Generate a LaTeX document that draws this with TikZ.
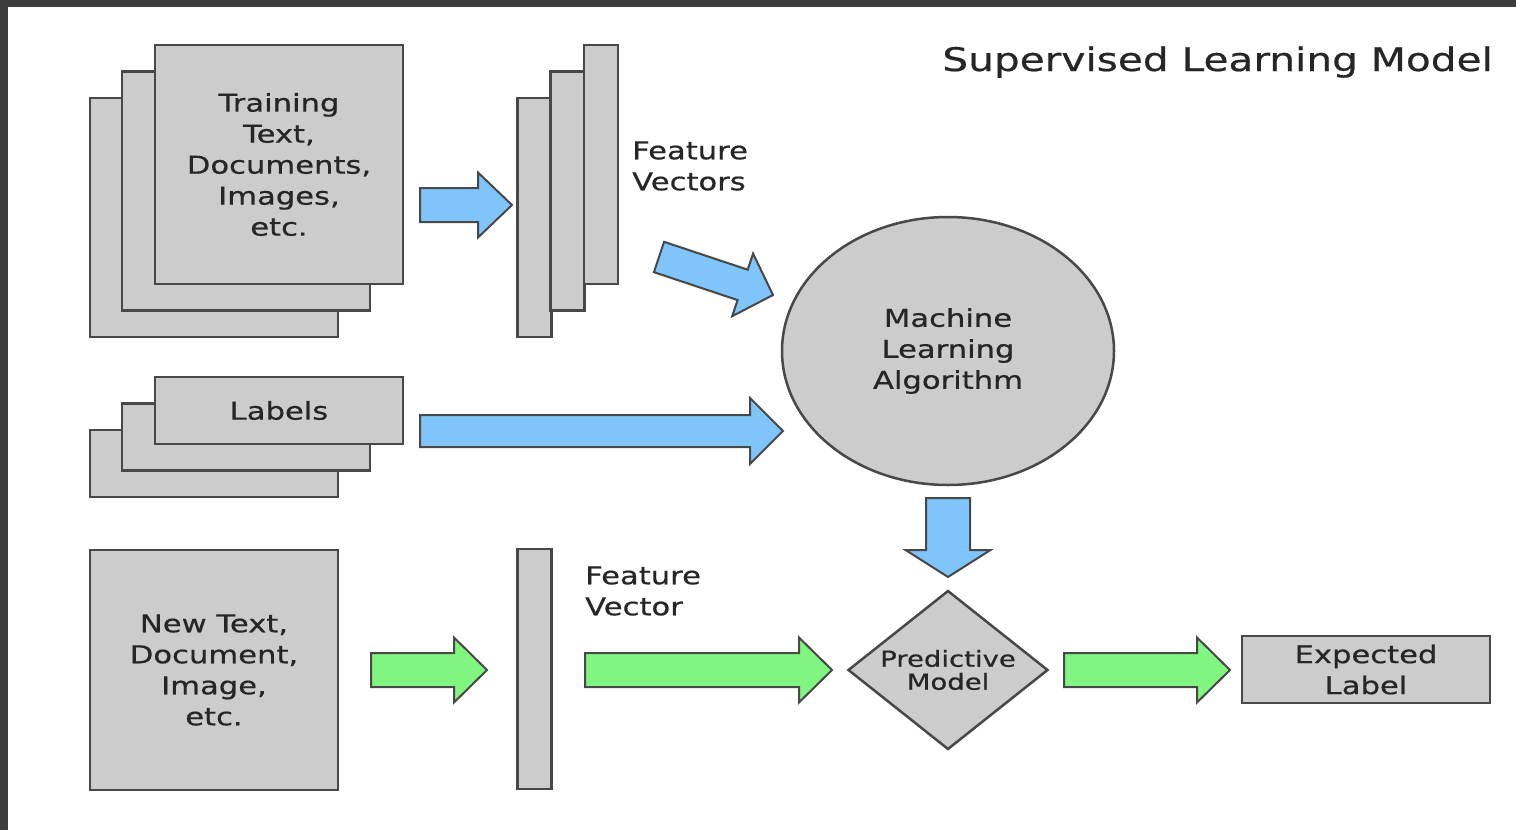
\documentclass[tikz,border=0pt]{standalone}
\usepackage{fontspec}
\setmainfont[FakeStretch=1.25,FakeBold=0.6]{DejaVu Sans}
\usetikzlibrary{calc,shapes.geometric}

\definecolor{boxgray}{HTML}{CCCCCC}
\definecolor{edgegray}{HTML}{484848}
\definecolor{textgray}{HTML}{262626}
\definecolor{arrowblue}{HTML}{7FC5FA}
\definecolor{arrowgreen}{HTML}{80F680}
\definecolor{framegray}{HTML}{3C3C3C}

\newcommand{\bodyfont}{\fontsize{24.5}{31}\selectfont}
% 粗箭头: 填充色, 起点, 终点, 箭身半宽, 箭头半宽, 箭头长
\newcommand{\blockarrow}[6]{%
  \draw[arrowline, fill=#1] ($(#2)!#4!90:(#3)$)
    -- ($(#3)!#6!(#2)!#4!90:(#3)$) -- ($(#3)!#6!(#2)!#5!90:(#3)$)
    -- (#3)
    -- ($(#3)!#6!(#2)!#5!-90:(#3)$) -- ($(#3)!#6!(#2)!#4!-90:(#3)$)
    -- ($(#2)!#4!-90:(#3)$) -- cycle;}

\tikzset{
  paper/.style={draw=edgegray, line width=2.5pt, fill=boxgray, text=textgray,
    align=center, inner sep=0pt, font=\bodyfont},
  txt/.style={text=textgray, inner sep=0pt},
  arrowline/.style={draw=edgegray, line width=2pt, line join=miter},
}

\begin{document}
\begin{tikzpicture}[x=1pt, y=-1pt]
    \useasboundingbox (0,0) rectangle (1516,830);
    \fill[white] (0,0) rectangle (1516,830);
    \fill[framegray] (0,0) rectangle (1516,7);
    \fill[framegray] (0,0) rectangle (8,830);

    \node[txt, anchor=base east, font=\fontsize{32.5}{39}\selectfont] (title) at (1493,71) {Supervised Learning Model};

    % 训练数据
    \node[paper, minimum width=248pt, minimum height=239pt] (train3) at (214,217.5) {};
    \node[paper, minimum width=248pt, minimum height=239pt] (train2) at (246,191) {};
    \node[paper, minimum width=248pt, minimum height=239pt] (train1) at (279,164.5) {Training\\Text,\\Documents,\\Images,\\etc.};

    \node[paper, minimum width=34pt, minimum height=239pt] (fv3) at (534.5,217.5) {};
    \node[paper, minimum width=34pt, minimum height=239pt] (fv2) at (567.5,191) {};
    \node[paper, minimum width=34pt, minimum height=239pt] (fv1) at (601,164.5) {};
    \node[txt, anchor=west, align=left, font=\bodyfont] (fvtext) at (632,166) {Feature\\Vectors};

    \node[paper, minimum width=248pt, minimum height=67pt] (labels3) at (214,463.5) {};
    \node[paper, minimum width=248pt, minimum height=67pt] (labels2) at (246,437) {};
    \node[paper, minimum width=248pt, minimum height=67pt] (labels1) at (279,410.5) {Labels};

    \node[paper, ellipse, minimum width=332pt, minimum height=268pt] (mla) at (948,351) {Machine\\Learning\\Algorithm};

    % 预测部分
    \node[paper, minimum width=248pt, minimum height=240pt] (newdoc) at (214,670) {New Text,\\Document,\\Image,\\etc.};
    \node[paper, minimum width=34pt, minimum height=240pt] (newfv) at (534.5,669) {};
    \node[txt, anchor=west, align=left, font=\bodyfont] (newfvtext) at (585,591) {Feature\\Vector};
    \node[paper, diamond, aspect=1.26, minimum width=200pt, minimum height=159pt,
      font=\fontsize{22}{23}\selectfont] (pm) at (948,670) {Predictive\\Model};
    \node[paper, minimum width=248pt, minimum height=67pt] (expected) at (1366,669.5) {Expected\\Label};

    \blockarrow{arrowblue}{420,205}{512,205}{17pt}{32.5pt}{34pt}
    \blockarrow{arrowblue}{659,257}{773,295}{16pt}{33pt}{32pt}
    \blockarrow{arrowblue}{420,431}{783,431}{16pt}{33pt}{33pt}
    \blockarrow{arrowblue}{948,498}{948,577}{22pt}{42.5pt}{27pt}
    \blockarrow{arrowgreen}{371,670}{487,670}{17pt}{32.5pt}{33pt}
    \blockarrow{arrowgreen}{585,670}{832,670}{17pt}{32.5pt}{33pt}
    \blockarrow{arrowgreen}{1064,670}{1230,670}{17pt}{32.5pt}{33pt}
\end{tikzpicture}
\end{document}
